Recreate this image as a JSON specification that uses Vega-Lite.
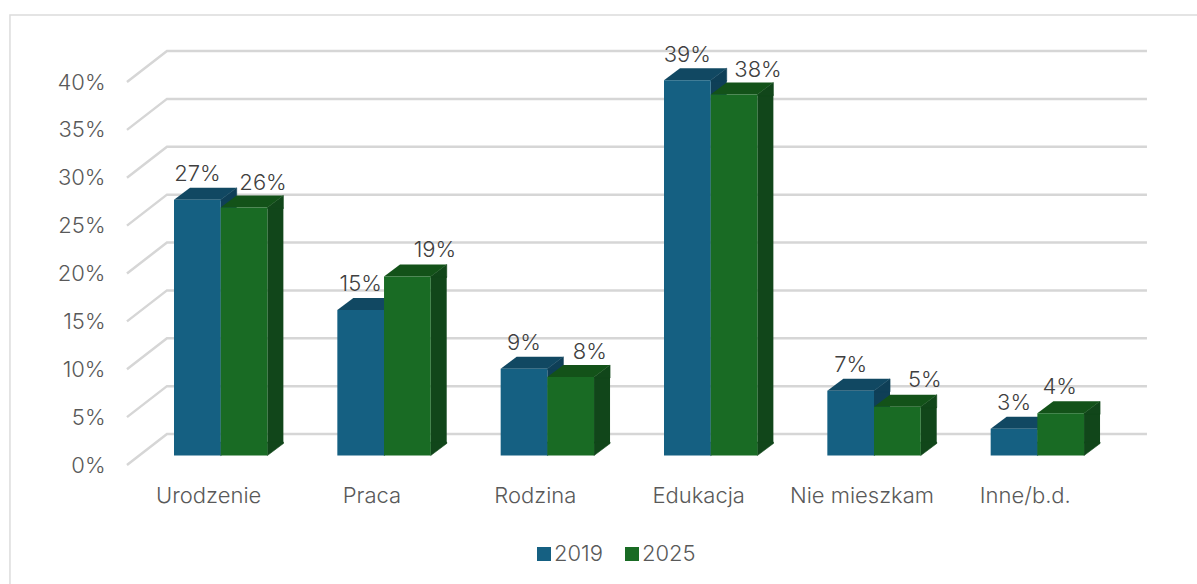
{"$schema":"https://vega.github.io/schema/vega-lite/v6.json","width":980,"height":383,"autosize":"none","padding":{"left":127,"top":82,"right":90,"bottom":119},"background":"white","config":{"view":{"stroke":null},"font":"Inter"},"datasets":{"bars":[{"kategoria":"Urodzenie","rok":"2019","udzial":0.267},{"kategoria":"Urodzenie","rok":"2025","udzial":0.259},{"kategoria":"Praca","rok":"2019","udzial":0.152},{"kategoria":"Praca","rok":"2025","udzial":0.187},{"kategoria":"Rodzina","rok":"2019","udzial":0.0905},{"kategoria":"Rodzina","rok":"2025","udzial":0.082},{"kategoria":"Edukacja","rok":"2019","udzial":0.392},{"kategoria":"Edukacja","rok":"2025","udzial":0.377},{"kategoria":"Nie mieszkam","rok":"2019","udzial":0.0675},{"kategoria":"Nie mieszkam","rok":"2025","udzial":0.051},{"kategoria":"Inne/b.d.","rok":"2019","udzial":0.028},{"kategoria":"Inne/b.d.","rok":"2025","udzial":0.044}],"ticks":[{"t":0},{"t":0.05},{"t":0.1},{"t":0.15},{"t":0.2},{"t":0.25},{"t":0.3},{"t":0.35},{"t":0.4}]},"data":{"name":"bars"},"encoding":{"x":{"field":"kategoria","type":"nominal","sort":null,"scale":{"type":"band","paddingInner":0,"paddingOuter":0,"domain":["Urodzenie","Praca","Rodzina","Edukacja","Nie mieszkam","Inne/b.d."]},"axis":{"title":null,"domain":false,"ticks":false,"labelAngle":0,"labelPadding":20,"labelFontSize":22,"labelFontWeight":300,"labelColor":"#595959","labelFont":"Inter"}},"xOffset":{"field":"rok","type":"nominal","scale":{"type":"band","domain":["2019","2025"],"paddingInner":0,"paddingOuter":0.749,"align":0.672}},"y":{"field":"udzial","type":"quantitative","scale":{"domain":[0,0.4],"nice":false},"axis":{"title":null,"domain":false,"ticks":false,"grid":false,"values":[0,0.05,0.1,0.15,0.2,0.25,0.3,0.35,0.4],"format":".0%","labelPadding":22,"labelFontSize":22,"labelFontWeight":300,"labelColor":"#595959","labelFont":"Inter"}}},"layer":[{"data":{"name":"ticks"},"mark":{"type":"point","shape":"M-81.7,0 L-41.7,-31 H938.3","size":4,"filled":false,"stroke":"#d6d6d6","strokeWidth":2.5,"opacity":1},"encoding":{"x":{"datum":"Urodzenie"},"xOffset":null,"y":{"field":"t","type":"quantitative"}}},{"data":{"values":[{"t":0}]},"mark":{"type":"point","shape":"M-198.7,119 V-450 H990","size":4,"filled":false,"stroke":"#dcdcdc","strokeWidth":1.5,"opacity":1},"encoding":{"x":{"datum":"Urodzenie"},"xOffset":null,"y":{"field":"t","type":"quantitative"}}},{"transform":[{"filter":"datum.rok=='2019'"}],"mark":{"type":"bar","color":"#0f3f57","width":16,"xOffset":20,"yOffset":-9.5,"y2Offset":-21.5},"encoding":{"xOffset":null,"y2":{"datum":0}}},{"transform":[{"filter":"datum.rok=='2019'"}],"mark":{"type":"point","shape":"M23.35,-9.5 L39.35,-21.5 V-8.5 H23.35 Z","size":4,"filled":true,"color":"#0f3f57","stroke":"#0f3f57","opacity":1,"strokeWidth":0.6}},{"transform":[{"filter":"datum.rok=='2019'"}],"mark":{"type":"point","shape":"M23.35,-23 H39.35 V-21.5 L23.35,-9.5 Z","size":4,"filled":true,"color":"#0f3f57","stroke":"#0f3f57","opacity":1,"strokeWidth":0.6},"encoding":{"y":{"datum":0}}},{"transform":[{"filter":"datum.rok=='2019'"}],"mark":{"type":"point","shape":"M-23.35,-9.5 H23.35 L39.35,-21.5 H-7.35 Z","size":4,"filled":true,"color":"#114862","opacity":1,"strokeWidth":0}},{"transform":[{"filter":"datum.rok=='2025'"}],"mark":{"type":"bar","color":"#11461a","width":16,"xOffset":66.7,"yOffset":-9.5,"y2Offset":-21.5},"encoding":{"xOffset":null,"y2":{"datum":0}}},{"transform":[{"filter":"datum.rok=='2025'"}],"mark":{"type":"point","shape":"M23.35,-9.5 L39.35,-21.5 V-8.5 H23.35 Z","size":4,"filled":true,"color":"#11461a","stroke":"#11461a","opacity":1,"strokeWidth":0.6}},{"transform":[{"filter":"datum.rok=='2025'"}],"mark":{"type":"point","shape":"M23.35,-23 H39.35 V-21.5 L23.35,-9.5 Z","size":4,"filled":true,"color":"#11461a","stroke":"#11461a","opacity":1,"strokeWidth":0.6},"encoding":{"y":{"datum":0}}},{"transform":[{"filter":"datum.rok=='2019'"}],"mark":{"type":"bar","yOffset":-9.5,"y2Offset":-9.5},"encoding":{"y2":{"datum":0},"color":{"field":"rok","type":"nominal","scale":{"domain":["2019","2025"],"range":["#156082","#196b24"]},"legend":{"title":null,"orient":"none","direction":"horizontal","legendX":406,"legendY":461,"symbolType":"square","symbolSize":196,"symbolStrokeWidth":0,"symbolOpacity":1,"labelFontSize":22,"labelFontWeight":300,"labelColor":"#595959","labelOffset":-1,"columnPadding":18,"labelFont":"Inter"}}}},{"transform":[{"filter":"datum.rok=='2025'"}],"mark":{"type":"point","shape":"M-23.35,-9.5 H23.35 L39.35,-21.5 H-7.35 Z","size":4,"filled":true,"color":"#135219","opacity":1,"strokeWidth":0}},{"transform":[{"filter":"datum.rok=='2025'"}],"mark":{"type":"bar","yOffset":-9.5,"y2Offset":-9.5},"encoding":{"y2":{"datum":0},"color":{"field":"rok","type":"nominal"}}},{"transform":[{"filter":"datum.rok=='2019'"}],"mark":{"type":"text","fontSize":22,"fontWeight":300,"color":"#404040","dx":0,"dy":-35},"encoding":{"text":{"field":"udzial","type":"quantitative","format":".0%"}}},{"transform":[{"filter":"datum.rok=='2025' && (datum.kategoria=='Urodzenie' || datum.kategoria=='Rodzina')"}],"mark":{"type":"text","fontSize":22,"fontWeight":300,"color":"#404040","dx":19,"dy":-34.5},"encoding":{"text":{"field":"udzial","type":"quantitative","format":".0%"}}},{"transform":[{"filter":"datum.rok=='2025' && (datum.kategoria=='Praca' || datum.kategoria=='Nie mieszkam')"}],"mark":{"type":"text","fontSize":22,"fontWeight":300,"color":"#404040","dx":27.5,"dy":-36},"encoding":{"text":{"field":"udzial","type":"quantitative","format":".0%"}}},{"transform":[{"filter":"datum.rok=='2025' && datum.kategoria=='Edukacja'"}],"mark":{"type":"text","fontSize":22,"fontWeight":300,"color":"#404040","dx":24,"dy":-34},"encoding":{"text":{"field":"udzial","type":"quantitative","format":".0%"}}},{"transform":[{"filter":"datum.rok=='2025' && datum.kategoria=='Inne/b.d.'"}],"mark":{"type":"text","fontSize":22,"fontWeight":300,"color":"#404040","dx":-1,"dy":-36},"encoding":{"text":{"field":"udzial","type":"quantitative","format":".0%"}}}]}
